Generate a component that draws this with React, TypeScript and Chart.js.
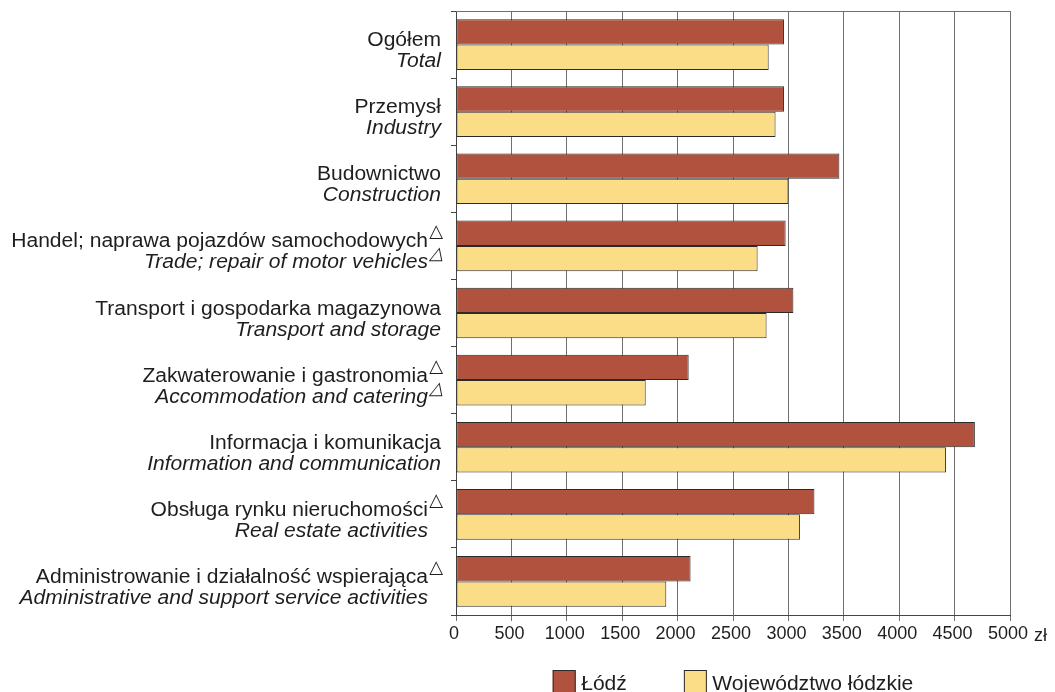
import React, { useEffect, useRef } from "react";
import { Chart, registerables } from "chart.js";

Chart.register(...registerables);

// ---- data ----
const categoriesPL = [
  "Ogółem",
  "Przemysł",
  "Budownictwo",
  "Handel; naprawa pojazdów samochodowych",
  "Transport i gospodarka magazynowa",
  "Zakwaterowanie i gastronomia",
  "Informacja i komunikacja",
  "Obsługa rynku nieruchomości",
  "Administrowanie i działalność wspierająca",
];
const categoriesEN = [
  "Total",
  "Industry",
  "Construction",
  "Trade; repair of motor vehicles",
  "Transport and storage",
  "Accommodation and catering",
  "Information and communication",
  "Real estate activities",
  "Administrative and support service activities",
];
const trianglePL = [false, false, false, true, false, true, false, true, true];
const triangleEN = [false, false, false, true, false, true, false, false, false];
const seriesNames = ["Łódź", "Województwo łódzkie"];
const lodzValues = [2960, 2960, 3460, 2975, 3045, 2100, 4683, 3235, 2117];
const wojValues = [2822, 2884, 3000, 2722, 2803, 1712, 4423, 3104, 1898];
const xMin = 0;
const xMax = 5000;
const xStep = 500;
const unitLabel = "zł";
const triangleMark = "△";

// ---- style ----
const FONT = '"Liberation Sans", Arial, Helvetica, sans-serif';
const SX = 1.08;
const LABEL_SIZE = 19.5;
const TEXT = "#1e1e1e";
const GRID = "#707070";
const AXIS = "#454545";
const COLORS = ["#b0523e", "#fbdc87"];
const BORDER = "#2a2a2a";

function drawStretched(
  ctx: CanvasRenderingContext2D,
  text: string,
  x: number,
  y: number,
  font: string,
  align: CanvasTextAlign
) {
  ctx.save();
  ctx.translate(x, y);
  ctx.scale(SX, 1);
  ctx.font = font;
  ctx.textAlign = align;
  ctx.textBaseline = "alphabetic";
  ctx.fillText(text, 0, 0);
  ctx.restore();
}

const customPlugin = {
  id: "customDecor",
  afterDraw(chart: any) {
    const { ctx, chartArea, scales } = chart;
    const yScale = scales.y;
    ctx.save();
    // top border of plot
    ctx.strokeStyle = GRID;
    ctx.lineWidth = 1;
    ctx.beginPath();
    ctx.moveTo(chartArea.left, chartArea.top + 0.5);
    ctx.lineTo(chartArea.right, chartArea.top + 0.5);
    ctx.stroke();

    ctx.fillStyle = TEXT;
    const right = chartArea.left - 15;
    categoriesPL.forEach((pl, i) => {
      const c = yScale.getPixelForValue(i);
      const reserve = trianglePL[i] || triangleEN[i];
      const textRight = reserve ? right - 13 : right;
      drawStretched(ctx, pl, textRight, c + 1.5, `${LABEL_SIZE}px ${FONT}`, "right");
      drawStretched(ctx, categoriesEN[i], textRight, c + 22.5, `italic ${LABEL_SIZE}px ${FONT}`, "right");
      ctx.textAlign = "right";
      ctx.textBaseline = "alphabetic";
      if (trianglePL[i]) {
        ctx.font = `18px "DejaVu Sans", sans-serif`;
        ctx.fillText(triangleMark, right + 2, c + 1.5 - 10);
      }
      if (triangleEN[i]) {
        ctx.save();
        ctx.translate(right + 2, c + 22.5 - 9);
        ctx.transform(1, 0, -0.3, 1, 0, 0);
        ctx.font = `18px "DejaVu Sans", sans-serif`;
        ctx.fillText(triangleMark, 0, 0);
        ctx.restore();
      }
    });

    // unit label
    ctx.font = `18px ${FONT}`;
    ctx.textAlign = "left";
    ctx.textBaseline = "alphabetic";
    ctx.fillText(unitLabel, chartArea.right + 24, chartArea.bottom + 25.5);

    // legend
    const font = `${LABEL_SIZE}px ${FONT}`;
    ctx.font = font;
    const widths = seriesNames.map((n) => ctx.measureText(n).width * SX);
    const box = 23;
    const gap = 5.5;
    const spacing = 57;
    const total = widths.reduce((a, w) => a + box + gap + w, 0) + spacing * (seriesNames.length - 1);
    let x = (chartArea.left + chartArea.right) / 2 - total / 2;
    const boxTop = chartArea.bottom + 55;
    seriesNames.forEach((n, i) => {
      ctx.fillStyle = COLORS[i];
      ctx.fillRect(x, boxTop, box, box);
      ctx.strokeStyle = BORDER;
      ctx.lineWidth = 1;
      ctx.strokeRect(x + 0.5, boxTop + 0.5, box - 1, box - 1);
      ctx.fillStyle = TEXT;
      drawStretched(ctx, n, x + box + gap, boxTop + 20, font, "left");
      x += box + gap + widths[i] + spacing;
    });
    ctx.restore();
  },
};

export default function App() {
  const ref = useRef<HTMLCanvasElement>(null);
  useEffect(() => {
    document.body.style.margin = "0";
    document.body.style.overflow = "hidden";
    const chart = new Chart(ref.current as HTMLCanvasElement, {
      type: "bar",
      data: {
        labels: categoriesPL,
        datasets: [
          {
            label: seriesNames[0],
            data: lodzValues,
            backgroundColor: COLORS[0],
            borderColor: BORDER,
            borderWidth: 1,
            borderSkipped: false,
          },
          {
            label: seriesNames[1],
            data: wojValues,
            backgroundColor: COLORS[1],
            borderColor: BORDER,
            borderWidth: 1,
            borderSkipped: false,
          },
        ],
      },
      options: {
        indexAxis: "y",
        responsive: false,
        animation: false,
        devicePixelRatio: 1,
        layout: { padding: { left: 451, right: 45, top: 11, bottom: 0 } },
        datasets: { bar: { categoryPercentage: 0.755, barPercentage: 1.0 } },
        plugins: {
          legend: { display: false },
          tooltip: { enabled: false },
          title: { display: false },
        },
        scales: {
          x: {
            type: "linear",
            min: xMin,
            max: xMax,
            ticks: {
              stepSize: xStep,
              font: { family: FONT, size: 18 },
              color: TEXT,
              padding: 2,
              labelOffset: -2,
              maxRotation: 0,
              autoSkip: false,
              callback: (v: any) => String(v),
            },
            grid: { color: GRID, lineWidth: 1, tickLength: 6, drawTicks: true },
            border: { display: true, color: AXIS, width: 1 },
            afterFit: (s: any) => {
              s.height = 77;
            },
          },
          y: {
            type: "category",
            offset: true,
            ticks: { display: false },
            grid: {
              offset: true,
              drawOnChartArea: false,
              drawTicks: true,
              tickLength: 5,
              color: AXIS,
            },
            border: { display: true, color: AXIS, width: 1 },
            afterFit: (s: any) => {
              s.width = 5;
            },
          },
        },
      } as any,
      plugins: [customPlugin],
    });
    return () => chart.destroy();
  }, []);
  return (
    <div style={{ position: "absolute", left: 0, top: 0, width: 1055, height: 692, background: "#fff", overflow: "hidden" }}>
      <canvas ref={ref} width={1055} height={692} style={{ display: "block" }} />
    </div>
  );
}
